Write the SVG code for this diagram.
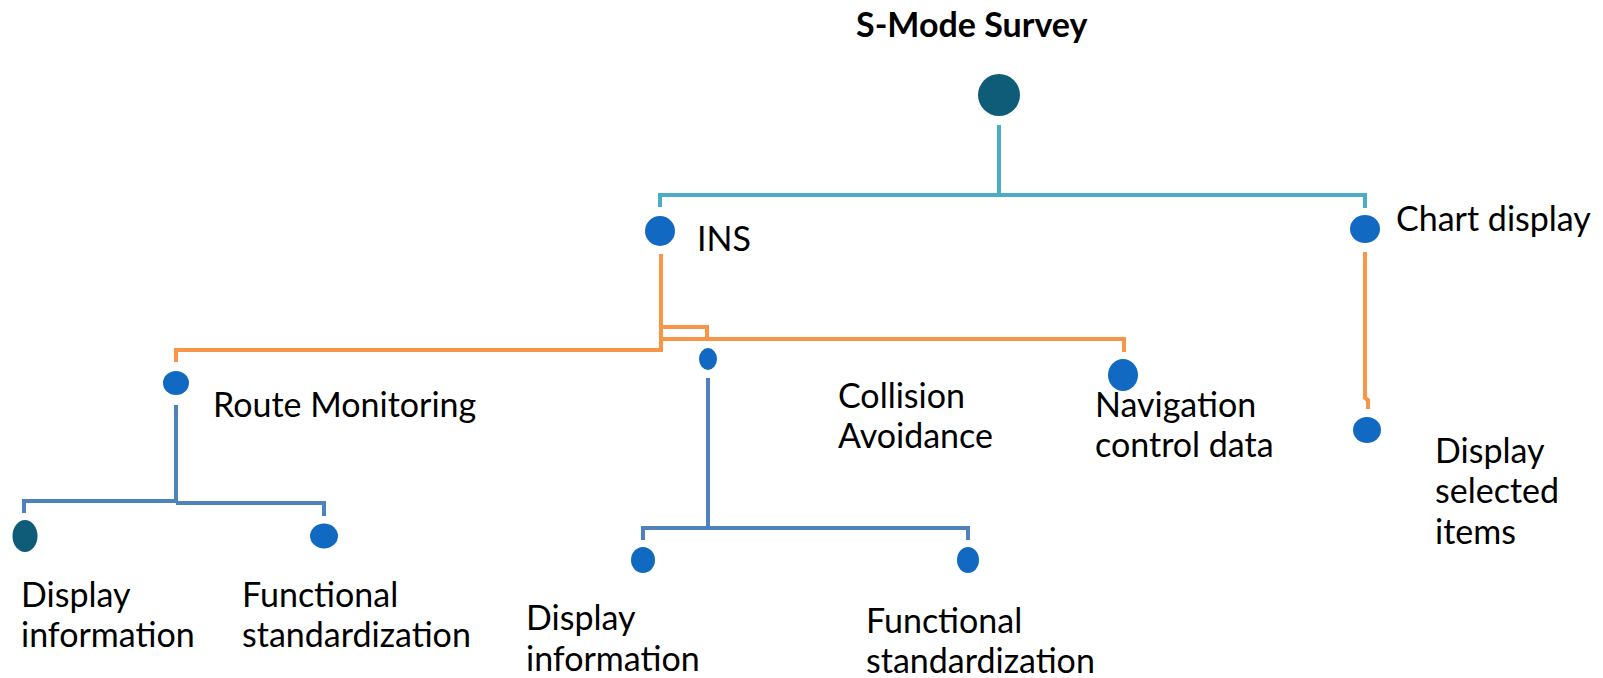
<svg xmlns="http://www.w3.org/2000/svg" width="1603" height="678" viewBox="0 0 1603 678">
<style>
.t{font-family:Lato,"Liberation Sans",sans-serif;font-size:34px;fill:#000}
.title{font-family:Lato,"Liberation Sans",sans-serif;font-size:34px;font-weight:bold;fill:#000}
.teal{fill:none;stroke:#4BACC6;stroke-width:4}
.org{fill:none;stroke:#F79646;stroke-width:4}
.blu{fill:none;stroke:#4F81BD;stroke-width:4}
.dot{fill:#1269C1}
.dark{fill:#0F5C78}
</style>
<rect width="1603" height="678" fill="#fff"/>
<g id="connectors">
<path class="teal" d="M999,125 V195 M660,207 V195 H1365 V208"/>
<path class="org" d="M661,254 V350 H176 V362 M661,327 H707 V339 M661,339 H1124 V352"/>
<path class="org" d="M1365,252 V398 L1368,400 V409"/>
<path class="blu" d="M176,405 V503 M24,513 V501 H176 M176,503 H324 V516"/>
<path class="blu" d="M708,378 V528 M643,540 V528 H968 V540"/>
</g>
<g id="root">
<circle class="dark" cx="999" cy="95" r="21"/>
<text class="title" x="856" y="37">S-Mode Survey</text>
</g>
<g id="ins">
<circle class="dot" cx="660" cy="231" r="15"/>
<text class="t" x="697" y="251">INS</text>
</g>
<g id="chart-display">
<ellipse class="dot" cx="1365" cy="229" rx="15" ry="14"/>
<text class="t" x="1396" y="231">Chart display</text>
</g>
<g id="route-monitoring">
<ellipse class="dot" cx="176" cy="383" rx="13" ry="12"/>
<text class="t" x="213" y="417">Route Monitoring</text>
</g>
<g id="collision-avoidance">
<ellipse class="dot" cx="708" cy="359" rx="10" ry="12" stroke="#fff" stroke-width="2"/>
<text class="t" x="838" y="408">Collision</text>
<text class="t" x="838" y="448">Avoidance</text>
</g>
<g id="navigation-control-data">
<ellipse class="dot" cx="1123" cy="375" rx="15" ry="16"/>
<text class="t" x="1095" y="417">Navigation</text>
<text class="t" x="1095" y="457">control data</text>
</g>
<g id="display-selected-items">
<ellipse class="dot" cx="1367" cy="430" rx="14" ry="13"/>
<text class="t" x="1435" y="463">Display</text>
<text class="t" x="1435" y="503">selected</text>
<text class="t" x="1435" y="544">items</text>
</g>
<g id="rm-display-information">
<ellipse class="dark" cx="25" cy="536" rx="12.5" ry="16"/>
<text class="t" x="21" y="607">Display</text>
<text class="t" x="21" y="647">information</text>
</g>
<g id="rm-functional-standardization">
<ellipse class="dot" cx="324" cy="536" rx="14" ry="12.5"/>
<text class="t" x="242" y="607">Functional</text>
<text class="t" x="242" y="647">standardization</text>
</g>
<g id="ca-display-information">
<ellipse class="dot" cx="643" cy="560" rx="12" ry="13"/>
<text class="t" x="526" y="630">Display</text>
<text class="t" x="526" y="671">information</text>
</g>
<g id="ca-functional-standardization">
<ellipse class="dot" cx="968" cy="560" rx="11" ry="13"/>
<text class="t" x="866" y="633">Functional</text>
<text class="t" x="866" y="673">standardization</text>
</g>
</svg>
